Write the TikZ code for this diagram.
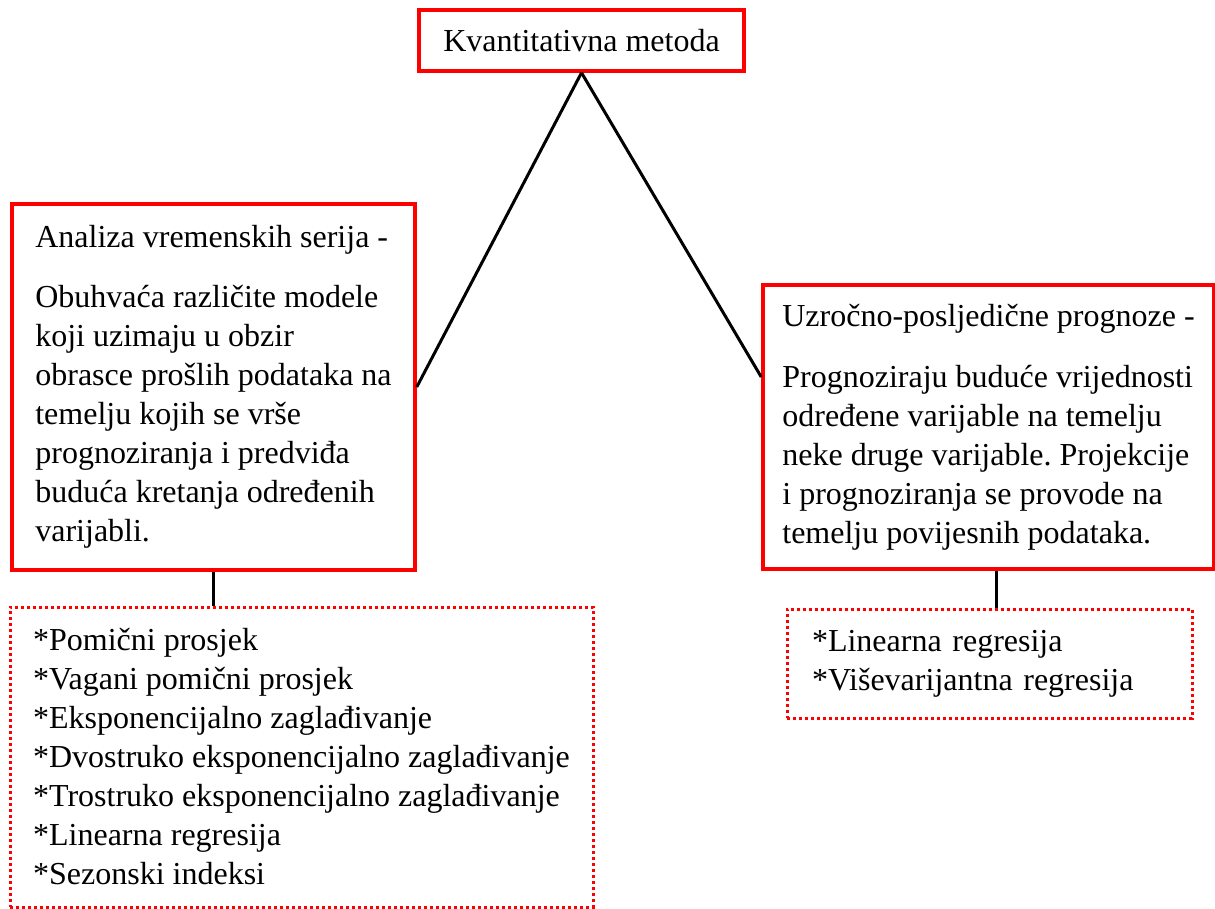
\documentclass[tikz,border=0pt]{standalone}
\usepackage{fontspec}
\setmainfont{Liberation Serif}
\usepackage{tikz}
\usetikzlibrary{positioning}
\frenchspacing

\begin{document}
\begin{tikzpicture}[x=0.5pt,y=-0.5pt,line width=1.5pt,
        box/.style={draw=red, line width=1.75pt, align=left, font=\fontsize{16}{19.5}\selectfont},
        dotbox/.style={box, line width=1.5pt, dash pattern=on 1.5pt off 1.5pt}]
        \useasboundingbox (0,0) rectangle (1215,909);
        \node[box, minimum width=162.5pt, minimum height=30.5pt] (K) at (581.5,40.5) {Kvantitativna metoda};
        \node[box, minimum width=201.5pt, minimum height=183pt] (A) at (213.5,387) {Analiza vremenskih serija -\\[10.5pt]
            Obuhvaća različite modele\\ koji uzimaju u obzir\\ obrasce prošlih podataka na\\ temelju kojih se vrše\\
            prognoziranja i predviđa\\ buduća kretanja određenih\\ varijabli.};
        \node[box, minimum width=225.5pt, minimum height=142pt] (U) at (988.5,427) {Uzročno-posljedične prognoze -\\[11pt]
            Prognoziraju buduće vrijednosti\\ određene varijable na temelju\\ neke druge varijable. Projekcije\\
            i prognoziranja se provode na\\ temelju povijesnih podataka.};
        \node[dotbox, minimum width=291.5pt, minimum height=150pt] (P) at (301.5,757) {{*}Pomični prosjek\\ {*}Vagani pomični prosjek\\
            {*}Eksponencijalno zaglađivanje\\ {*}Dvostruko eksponencijalno zaglađivanje\\ {*}Trostruko eksponencijalno zaglađivanje\\
            {*}Linearna regresija\\ {*}Sezonski indeksi};
        \node[dotbox, text width=177.5pt, inner xsep=12.5pt, minimum height=54.5pt] (R) at (989.5,663.5) {{*}Linearna regresija\\
            {*}Viševarijantna regresija};
        \path (K.south) edge (A.east);
        \path (K.south) edge ([yshift=25pt]U.west);
        \path (A.south) edge (A.south |- P.north);
        \path ([xshift=4pt]U.south) edge ([xshift=4pt]U.south |- R.north);
    \end{tikzpicture}
\end{document}
